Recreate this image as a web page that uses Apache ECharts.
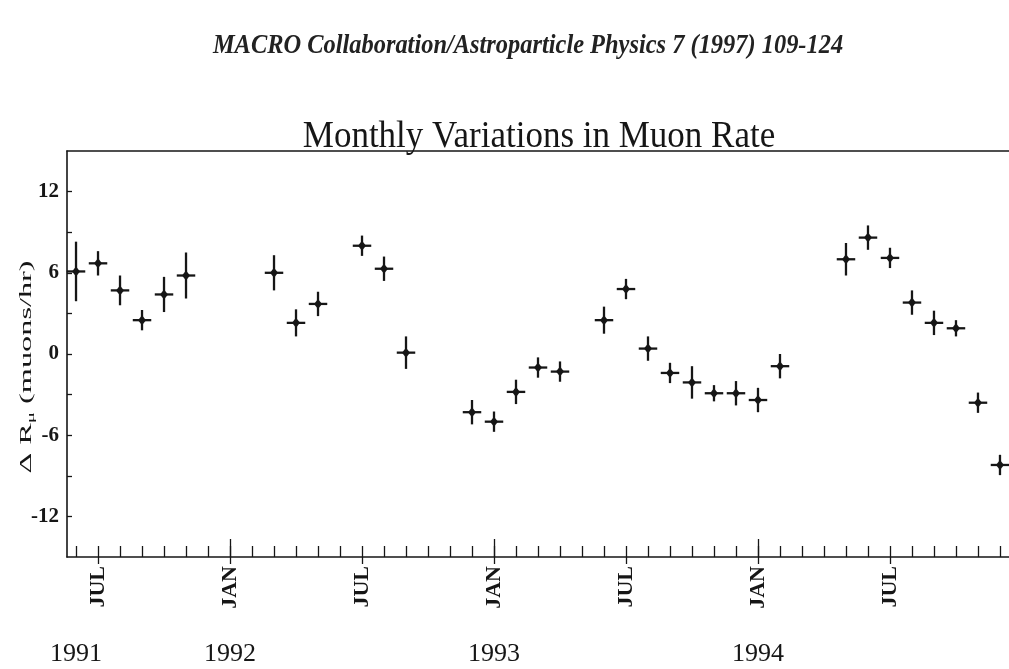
<!DOCTYPE html>
<html>
<head>
<meta charset="utf-8">
<script src="https://cdn.jsdelivr.net/npm/echarts@6/dist/echarts.min.js"></script>
<style>
  html, body { margin: 0; padding: 0; background: #fff; }
  #chart { width: 1009px; height: 669px; }
</style>
</head>
<body>
<div id="chart"></div>
<script>
// months counted from Jan 1991 (Jan 1991 = 0)
var months = [5, 6, 7, 8, 9, 10, 14, 15, 16, 18, 19, 20, 23, 24, 25, 26, 27,
              29, 30, 31, 32, 33, 34, 35, 36, 37, 40, 41, 42, 43, 44, 45, 46, 47];
var rateDelta = [6.1, 6.7, 4.7, 2.5, 4.4, 5.8, 6.0, 2.3, 3.7, 8.0, 6.3, 0.1, -4.3, -5.0, -2.8, -1.0, -1.3,
                 2.5, 4.8, 0.4, -1.4, -2.1, -2.9, -2.9, -3.4, -0.9, 7.0, 8.6, 7.1, 3.8, 2.3, 1.9, -3.6, -8.2];
var rateErr = [2.2, 0.9, 1.1, 0.75, 1.3, 1.7, 1.3, 1.0, 0.9, 0.75, 0.9, 1.2, 0.9, 0.75, 0.9, 0.75, 0.75,
               1.0, 0.75, 0.9, 0.75, 1.2, 0.6, 0.9, 0.9, 0.9, 1.2, 0.9, 0.75, 0.9, 0.9, 0.6, 0.75, 0.75];

var monthTicks = [];
for (var m = 5; m <= 47; m++) monthTicks.push(m);
var monthLabels = [6, 12, 18, 24, 30, 36, 42];
var yearTicks = [5, 12, 24, 36];
var yearNames = { 5: '1991', 12: '1992', 24: '1993', 36: '1994' };
var yTicks = [-12, -9, -6, -3, 0, 3, 6, 9, 12];
var yLabels = [-12, -6, 0, 6, 12];

var serif = 'Liberation Serif';
var ink = '#161616';
var halfMonth = 0.42;

var points = months.map(function (m, i) {
    return [m, rateDelta[i], rateErr[i]];
});

var chart = echarts.init(document.getElementById('chart'));

function xAxisBase(extra) {
    return Object.assign({
        type: 'value',
        gridIndex: 0,
        position: 'bottom',
        min: 4.59,
        max: 47.41,
        splitLine: { show: false },
        axisLine: { show: false, onZero: false },
        axisTick: { show: false },
        axisLabel: { show: false }
    }, extra);
}

var option = {
    backgroundColor: '#fff',
    animation: false,
    grid: { left: 67, top: 151, right: 0, bottom: 112, show: false },
    graphic: [
        {
            type: 'text', x: 528, y: 46, scaleX: 1.11, scaleY: 1.2,
            style: {
                text: 'MACRO Collaboration/Astroparticle Physics 7 (1997) 109-124',
                font: 'italic bold 22px "Liberation Serif"', fill: '#222',
                textAlign: 'center', textVerticalAlign: 'middle'
            }
        },
        {
            type: 'text', x: 539, y: 137, scaleY: 1.1,
            style: {
                text: 'Monthly Variations in Muon Rate',
                font: '35px "Liberation Serif"', fill: ink,
                textAlign: 'center', textVerticalAlign: 'middle'
            }
        },
        {
            type: 'text', x: 27, y: 367, rotation: Math.PI / 2, scaleX: 1.9,
            style: {
                text: '{a|Δ R}{s|μ}{a| (muons/hr)}',
                textAlign: 'center', textVerticalAlign: 'middle',
                rich: {
                    a: { fontFamily: serif, fontSize: 17, fill: ink, lineHeight: 20 },
                    s: { fontFamily: serif, fontSize: 11, fill: ink, lineHeight: 20, verticalAlign: 'bottom' }
                }
            }
        }
    ],
    xAxis: [
        xAxisBase({
            axisLine: { show: true, onZero: false, lineStyle: { color: ink, width: 1.6 } },
            axisTick: { show: true, inside: true, length: 11, customValues: monthTicks,
                        lineStyle: { color: ink, width: 1.3 } },
            axisLabel: {
                show: true, customValues: monthLabels, rotate: 90, margin: 9,
                fontFamily: serif, fontWeight: 'bold', fontSize: 22, color: ink,
                formatter: function (v) { return v % 12 === 0 ? 'JAN' : 'JUL'; }
            }
        }),
        xAxisBase({
            axisTick: { show: true, inside: true, length: 18, customValues: [12, 24, 36],
                        lineStyle: { color: ink, width: 1.3 } },
            axisLabel: {
                show: true, customValues: yearTicks, margin: 84,
                fontFamily: serif, fontSize: 26, color: ink,
                formatter: function (v) { return yearNames[v] || ''; }
            }
        }),
        xAxisBase({
            axisTick: { show: true, inside: false, length: 7, customValues: monthLabels,
                        lineStyle: { color: ink, width: 1.3 } }
        }),
        xAxisBase({
            position: 'top',
            axisLine: { show: true, onZero: false, lineStyle: { color: ink, width: 1.6 } }
        })
    ],
    yAxis: {
        type: 'value',
        min: -15, max: 15, interval: 3,
        splitLine: { show: false },
        axisLine: { show: true, onZero: false, lineStyle: { color: ink, width: 1.6 } },
        axisTick: { show: true, inside: true, length: 5, customValues: yTicks,
                    lineStyle: { color: ink, width: 1.3 } },
        axisLabel: {
            customValues: yLabels, margin: 8,
            fontFamily: serif, fontWeight: 'bold', fontSize: 21, color: ink
        }
    },
    series: [{
        type: 'custom',
        xAxisIndex: 0,
        yAxisIndex: 0,
        data: points,
        clip: false,
        renderItem: function (params, api) {
            var m = api.value(0), v = api.value(1), e = api.value(2);
            var c = api.coord([m, v]);
            var top = api.coord([m, v + e]);
            var bot = api.coord([m, v - e]);
            var lft = api.coord([m - halfMonth, v]);
            var rgt = api.coord([m + halfMonth, v]);
            var st = { stroke: ink, lineWidth: 2.3 };
            return {
                type: 'group',
                children: [
                    { type: 'line', shape: { x1: c[0], y1: top[1], x2: c[0], y2: bot[1] }, style: st },
                    { type: 'line', shape: { x1: lft[0], y1: c[1], x2: rgt[0], y2: c[1] }, style: st },
                    { type: 'polygon', shape: { points: [[c[0], c[1] - 5], [c[0] + 4, c[1]], [c[0], c[1] + 5], [c[0] - 4, c[1]]] },
                      style: { fill: ink } }
                ]
            };
        }
    }]
};

chart.setOption(option);
</script>
</body>
</html>
